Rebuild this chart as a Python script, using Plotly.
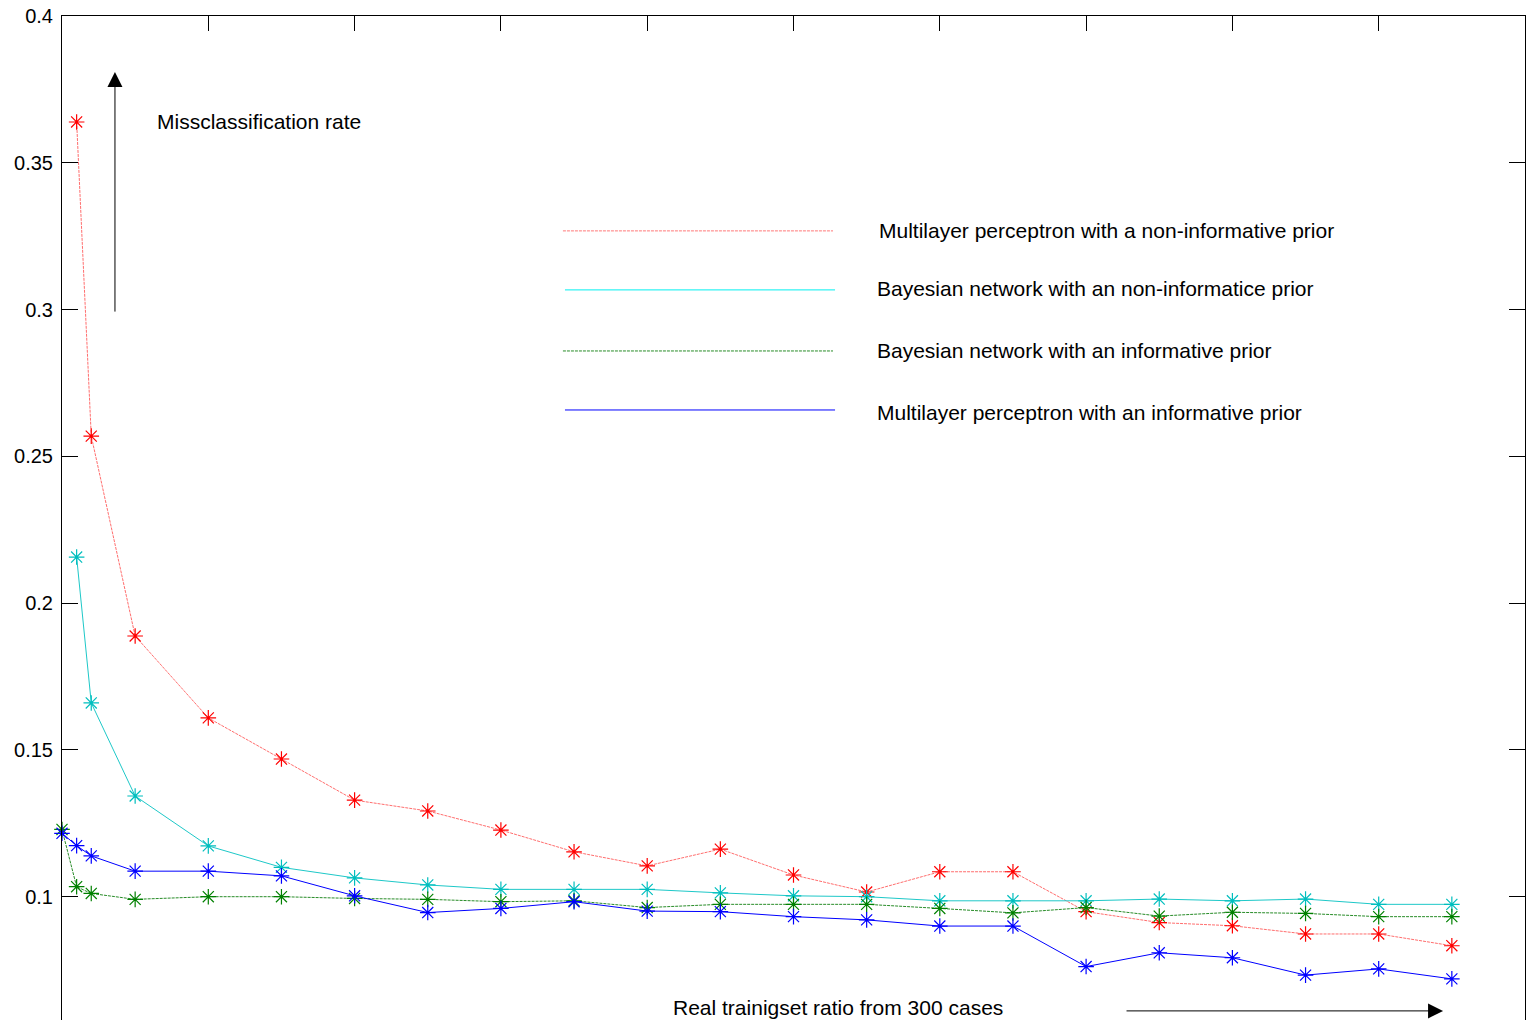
import plotly.graph_objects as go

# ---- data ----
x_ratio = [0.01, 0.02, 0.05, 0.10, 0.15, 0.20, 0.25, 0.30, 0.35, 0.40, 0.45,
           0.50, 0.55, 0.60, 0.65, 0.70, 0.75, 0.80, 0.85, 0.90, 0.95]
x_ratio_inf = [0.0] + x_ratio

mlp_noninf = [0.3639, 0.2569, 0.1888, 0.1609, 0.1469, 0.1329, 0.1292, 0.1227, 0.1153,
              0.1105, 0.1162, 0.1074, 0.1016, 0.1085, 0.1085, 0.0949, 0.0912, 0.0901,
              0.0873, 0.0873, 0.0833]
bn_noninf = [0.2157, 0.1660, 0.1343, 0.1173, 0.1100, 0.1064, 0.1040, 0.1025, 0.1025,
             0.1025, 0.1013, 0.1003, 0.1000, 0.0986, 0.0986, 0.0986, 0.0992, 0.0986,
             0.0992, 0.0974, 0.0974]
bn_inf = [0.1229, 0.1034, 0.1011, 0.0991, 0.1000, 0.1000, 0.0994, 0.0991, 0.0983, 0.0986,
          0.0963, 0.0974, 0.0974, 0.0974, 0.0960, 0.0945, 0.0963, 0.0934, 0.0947, 0.0943,
          0.0932, 0.0932]
mlp_inf = [0.1216, 0.1174, 0.1139, 0.1087, 0.1087, 0.1071, 0.1003, 0.0946, 0.0960, 0.0983,
           0.0951, 0.0949, 0.0932, 0.0921, 0.0900, 0.0900, 0.0762, 0.0809, 0.0792, 0.0733,
           0.0754, 0.0720]

series_names = ["Multilayer perceptron with a non-informative prior",
                "Bayesian network with an non-informatice prior",
                "Bayesian network with an informative prior",
                "Multilayer perceptron with an informative prior"]

FONT = "Liberation Sans, Arial, sans-serif"
TXT = 21

fig = go.Figure()

def add(xs, ys, line_color, marker_color, dash, name):
    fig.add_trace(go.Scatter(
        x=xs, y=ys, mode="lines+markers", name=name, showlegend=False,
        line=dict(color=line_color, width=1, dash=dash),
        marker=dict(symbol="asterisk-open", size=13, color=marker_color,
                    line=dict(color=marker_color, width=1.2)),
        cliponaxis=False))

add(x_ratio, mlp_noninf, "rgb(255,110,110)", "rgb(255,0,0)", "3px,1px", series_names[0])
add(x_ratio, bn_noninf, "rgb(30,200,200)", "rgb(0,190,190)", "solid", series_names[1])
add(x_ratio_inf, bn_inf, "rgb(40,140,40)", "rgb(0,128,0)", "3px,1px", series_names[2])
add(x_ratio_inf, mlp_inf, "rgb(0,0,255)", "rgb(0,0,255)", "solid", series_names[3])

# ---- legend drawn as lines + text ----
leg_lines = [
    (0.3424, 0.5270, 0.3268, "rgb(255,120,120)", "3px,1px"),
    (0.3438, 0.5284, 0.3067, "rgb(0,240,240)", "solid"),
    (0.3424, 0.5270, 0.2859, "rgb(40,140,40)", "3px,1px"),
    (0.3438, 0.5284, 0.2658, "rgb(0,0,255)", "solid"),
]
leg_text_x = [0.5570, 0.5557, 0.5557, 0.5557]
leg_text_y = [0.3268, 0.3073, 0.2859, 0.2651]
for (x0, x1, y, c, d), tx, ty, name in zip(leg_lines, leg_text_x, leg_text_y, series_names):
    fig.add_shape(type="line", xref="x", yref="y", x0=x0, x1=x1, y0=y, y1=y,
                  line=dict(color=c, width=1, dash=d))
    fig.add_annotation(x=tx, y=ty, xref="x", yref="y", text=name, showarrow=False,
                       xanchor="left", yanchor="middle",
                       font=dict(family=FONT, size=TXT, color="black"))

# ---- axis caption arrows ----
fig.add_annotation(x=0.0362, y=0.3809, ax=0.0362, ay=0.2988, xref="x", yref="y",
                   axref="x", ayref="y", text="", showarrow=True,
                   arrowhead=2, arrowsize=3, arrowwidth=1, arrowcolor="black")
fig.add_annotation(x=0.0635, y=0.3639, xref="x", yref="y", text="Missclassification rate",
                   showarrow=False, xanchor="left", yanchor="middle",
                   font=dict(family=FONT, size=TXT, color="black"))
fig.add_annotation(x=0.9440, y=0.0611, ax=0.7266, ay=0.0611, xref="x", yref="y",
                   axref="x", ayref="y", text="", showarrow=True,
                   arrowhead=2, arrowsize=3, arrowwidth=1, arrowcolor="black")
fig.add_annotation(x=0.4163, y=0.0621, xref="x", yref="y",
                   text="Real trainigset ratio from 300 cases",
                   showarrow=False, xanchor="left", yanchor="middle",
                   font=dict(family=FONT, size=TXT, color="black"))

fig.update_layout(
    width=1526, height=1020,
    margin=dict(l=62, r=1, t=16, b=0, pad=0, autoexpand=False),
    paper_bgcolor="white", plot_bgcolor="white",
    font=dict(family=FONT, size=20, color="black"),
    showlegend=False,
    xaxis=dict(range=[0, 1], side="top", showline=True, linecolor="black", linewidth=1,
               ticks="inside", ticklen=15, tickcolor="black", automargin=False,
               tickvals=[0, 0.1, 0.2, 0.3, 0.4, 0.5, 0.6, 0.7, 0.8, 0.9],
               showticklabels=False, showgrid=False, zeroline=False, mirror=False),
    yaxis=dict(range=[0.058, 0.4], showline=True, linecolor="black", linewidth=1,
               ticks="inside", ticklen=16, tickcolor="black", mirror="ticks",
               automargin=False, ticklabelstandoff=4,
               tickvals=[0.1, 0.15, 0.2, 0.25, 0.3, 0.35, 0.4],
               ticktext=["0.1", "0.15", "0.2", "0.25", "0.3", "0.35", "0.4"],
               tickfont=dict(family=FONT, size=20, color="black"),
               showgrid=False, zeroline=False),
)

fig.write_html("out.html", config={"displayModeBar": False},
               post_script="document.body.style.margin='0';document.body.style.overflow='hidden';")
